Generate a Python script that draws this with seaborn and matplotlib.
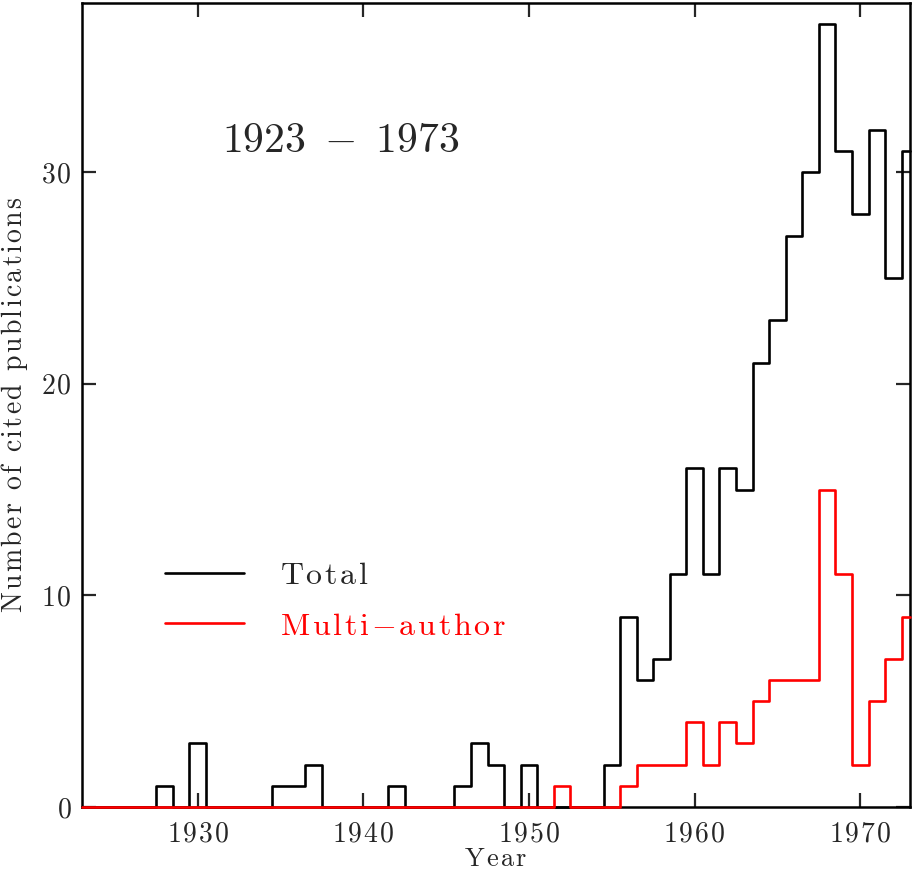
import numpy as np
import pandas as pd
import matplotlib
matplotlib.use("Agg")
import matplotlib.pyplot as plt
from matplotlib.ticker import FuncFormatter
import seaborn as sns

# --- data: citations per year, 1923-1973 ---
years = list(range(1923, 1974))
total = [0, 0, 0, 0, 0, 1, 0, 3, 0, 0,      # 1923-1932
         0, 0, 1, 1, 2, 0, 0, 0, 0, 1,      # 1933-1942
         0, 0, 0, 1, 3, 2, 0, 2, 0, 0,      # 1943-1952
         0, 0, 2, 9, 6, 7, 11, 16, 11, 16,  # 1953-1962
         15, 21, 23, 27, 30, 37, 31, 28, 32, 25,  # 1963-1972
         31]                                # 1973
multi = [0, 0, 0, 0, 0, 0, 0, 0, 0, 0,
         0, 0, 0, 0, 0, 0, 0, 0, 0, 0,
         0, 0, 0, 0, 0, 0, 0, 0, 0, 1,
         0, 0, 0, 1, 2, 2, 2, 4, 2, 4,
         3, 5, 6, 6, 6, 15, 11, 2, 5, 7,
         9]
series = ["Total", "Multi-author"]
xticks = [1930, 1940, 1950, 1960, 1970]
yticks = [0, 10, 20, 30]


def spaced(s, gap):
    # old plotting packages spread the letters out; mimic with small math kerns
    parts = []
    for ch in s:
        if ch == " ":
            parts.append(r"\ ")
        elif ch == "-":
            parts.append("{-}")
        else:
            parts.append(ch)
    return r"$\mathrm{" + (r"\hspace{%g}" % gap).join(parts) + "}$"


df = pd.concat([
    pd.DataFrame({"year": years, "count": total, "series": series[0]}),
    pd.DataFrame({"year": years, "count": multi, "series": series[1]}),
])

sns.set_style("ticks")
plt.rcParams["font.family"] = ["cmr10", "DejaVu Serif"]
plt.rcParams["mathtext.fontset"] = "cm"
plt.rcParams["axes.unicode_minus"] = False

txt = "#262626"

fig = plt.figure(figsize=(9.13, 8.76), dpi=100)
ax = fig.add_axes([0.0895, 0.0788, 0.9072, 0.918])

sns.lineplot(data=df, x="year", y="count", hue="series", hue_order=series,
             palette={"Total": "black", "Multi-author": "red"},
             drawstyle="steps-mid", linewidth=1.9, clip_on=False,
             zorder=3, ax=ax)

ax.set_xlim(1923, 1973)
ax.set_ylim(0, 38)
ax.set_xticks(xticks)
ax.set_yticks(yticks)
ax.xaxis.set_major_formatter(FuncFormatter(lambda v, p: spaced("%d" % v, 0.08)))
ax.yaxis.set_major_formatter(FuncFormatter(lambda v, p: spaced("%d" % v, 0.08)))
ax.tick_params(direction="in", length=10, width=1.6, top=True, right=True,
               labelsize=20, labelcolor=txt)
ax.tick_params(axis="x", pad=10)
ax.tick_params(axis="y", pad=7)
for sp in ax.spines.values():
    sp.set_linewidth(1.8)
    sp.set_color("black")

ax.set_xlabel(spaced("Year", 0.1), fontsize=19, color=txt, labelpad=0)
ax.set_ylabel(spaced("Number of cited publications", 0.1), fontsize=20,
              color=txt, labelpad=8)

ax.text(0.169, 0.828, r"$\mathrm{1923}\hspace{0.52}{-}\hspace{0.52}\mathrm{1973}$",
        transform=ax.transAxes, ha="left", va="center", fontsize=30, color=txt)

handles, _ = ax.get_legend_handles_labels()
labels = [spaced(s, 0.1) for s in series]
leg = ax.legend(handles, labels, loc="center left", bbox_to_anchor=(0.100, 0.256),
                frameon=False, fontsize=23, handlelength=2.5, handletextpad=1.1,
                labelspacing=0.7, borderpad=0, borderaxespad=0)
for t, c in zip(leg.get_texts(), [txt, "red"]):
    t.set_color(c)

fig.savefig("out.png", dpi=100)
